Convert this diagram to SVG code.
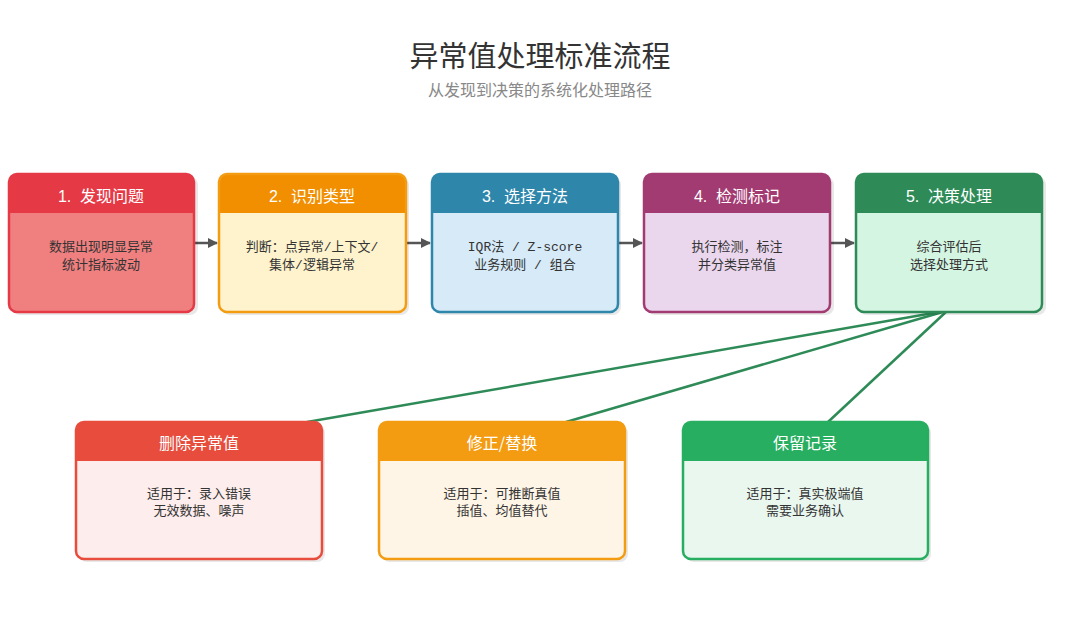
<svg xmlns="http://www.w3.org/2000/svg" width="1080" height="621" viewBox="0 0 1080 621">
<defs>
<style>
.title{font-family:"Noto Sans CJK SC","Liberation Sans",sans-serif;font-size:29px;fill:#333;text-anchor:middle}
.sub{font-family:"Noto Sans CJK SC","Liberation Sans",sans-serif;font-size:16px;fill:#888;text-anchor:middle}
.hd{font-family:"Liberation Sans","Noto Sans CJK SC",sans-serif;font-size:16px;fill:#fff;text-anchor:middle;white-space:pre}
.hd2{font-family:"Noto Sans CJK SC","Liberation Sans",sans-serif;font-size:16px;fill:#fff;text-anchor:middle}
.bd{font-family:"Liberation Mono","Noto Sans CJK SC",monospace;font-size:13px;fill:#333;text-anchor:middle}
.shadow{fill:#000;opacity:0.09}
.conn{stroke:#555;stroke-width:2.5;fill:none}
.green{stroke:#2e8b57;stroke-width:2.5;fill:none}
</style>
<marker id="arr" viewBox="0 0 10 10" refX="9" refY="5" markerWidth="4" markerHeight="4" orient="auto" markerUnits="strokeWidth">
<path d="M0,0 L10,5 L0,10 z" fill="#555"/>
</marker>
</defs>
<rect width="1080" height="621" fill="#fff"/>
<text class="title" x="540" y="67">异常值处理标准流程</text>
<text class="sub" x="540" y="96">从发现到决策的系统化处理路径</text>

<g id="connectors">
<line class="conn" x1="194" y1="243" x2="217" y2="243" marker-end="url(#arr)"/>
<line class="conn" x1="406" y1="243" x2="430" y2="243" marker-end="url(#arr)"/>
<line class="conn" x1="618" y1="243" x2="642" y2="243" marker-end="url(#arr)"/>
<line class="conn" x1="830" y1="243" x2="854" y2="243" marker-end="url(#arr)"/>
<line class="green" x1="945" y1="311" x2="307" y2="422"/>
<line class="green" x1="946" y1="311" x2="566" y2="422"/>
<line class="green" x1="947" y1="311" x2="828" y2="422"/>
</g>

<g id="n1">
<rect class="shadow" x="12" y="177" width="186" height="138" rx="8"/>
<rect x="9" y="174" width="185" height="138" rx="8" fill="#f08080"/>
<path d="M9,213 V182 Q9,174 17,174 H186 Q194,174 194,182 V213 Z" fill="#e63946"/>
<rect x="9" y="174" width="185" height="138" rx="8" fill="none" stroke="#e63946" stroke-width="2.5"/>
<text class="hd" x="101" y="202">1.  发现问题</text>
<text class="bd" x="101" y="251">数据出现明显异常</text>
<text class="bd" x="101" y="269">统计指标波动</text>
</g>

<g id="n2">
<rect class="shadow" x="222" y="177" width="187" height="138" rx="8"/>
<rect x="219" y="174" width="187" height="138" rx="8" fill="#fff3cd"/>
<path d="M219,213 V182 Q219,174 227,174 H398 Q406,174 406,182 V213 Z" fill="#f18f01"/>
<rect x="219" y="174" width="187" height="138" rx="8" fill="none" stroke="#f39c12" stroke-width="2.5"/>
<text class="hd" x="312" y="202">2.  识别类型</text>
<text class="bd" x="312" y="251">判断：点异常/上下文/</text>
<text class="bd" x="312" y="269">集体/逻辑异常</text>
</g>

<g id="n3">
<rect class="shadow" x="435" y="177" width="186" height="138" rx="8"/>
<rect x="432" y="174" width="186" height="138" rx="8" fill="#d6eaf8"/>
<path d="M432,213 V182 Q432,174 440,174 H610 Q618,174 618,182 V213 Z" fill="#2e86ab"/>
<rect x="432" y="174" width="186" height="138" rx="8" fill="none" stroke="#2e86ab" stroke-width="2.5"/>
<text class="hd" x="525" y="202">3.  选择方法</text>
<text class="bd" x="525" y="251">IQR法 / Z-score</text>
<text class="bd" x="525" y="269">业务规则 / 组合</text>
</g>

<g id="n4">
<rect class="shadow" x="647" y="177" width="187" height="138" rx="8"/>
<rect x="644" y="174" width="186" height="138" rx="8" fill="#ead7ee"/>
<path d="M644,213 V182 Q644,174 652,174 H822 Q830,174 830,182 V213 Z" fill="#a23b72"/>
<rect x="644" y="174" width="186" height="138" rx="8" fill="none" stroke="#a23b72" stroke-width="2.5"/>
<text class="hd" x="737" y="202">4.  检测标记</text>
<text class="bd" x="737" y="251">执行检测，标注</text>
<text class="bd" x="737" y="269">并分类异常值</text>
</g>

<g id="n5">
<rect class="shadow" x="859" y="177" width="187" height="138" rx="8"/>
<rect x="856" y="174" width="186" height="138" rx="8" fill="#d4f5e2"/>
<path d="M856,213 V182 Q856,174 864,174 H1034 Q1042,174 1042,182 V213 Z" fill="#2e8b57"/>
<rect x="856" y="174" width="186" height="138" rx="8" fill="none" stroke="#2e8b57" stroke-width="2.5"/>
<text class="hd" x="949" y="202">5.  决策处理</text>
<text class="bd" x="949" y="251">综合评估后</text>
<text class="bd" x="949" y="269">选择处理方式</text>
</g>

<g id="a1">
<rect class="shadow" x="79" y="425" width="246" height="137" rx="8"/>
<rect x="76" y="422" width="246" height="137" rx="8" fill="#fdedec"/>
<path d="M76,461 V430 Q76,422 84,422 H314 Q322,422 322,430 V461 Z" fill="#e74c3c"/>
<rect x="76" y="422" width="246" height="137" rx="8" fill="none" stroke="#e74c3c" stroke-width="2.5"/>
<text class="hd2" x="199" y="449">删除异常值</text>
<text class="bd" x="199" y="498">适用于：录入错误</text>
<text class="bd" x="199" y="515">无效数据、噪声</text>
</g>

<g id="a2">
<rect class="shadow" x="382" y="425" width="246" height="137" rx="8"/>
<rect x="379" y="422" width="246" height="137" rx="8" fill="#fef5e7"/>
<path d="M379,461 V430 Q379,422 387,422 H617 Q625,422 625,430 V461 Z" fill="#f39c12"/>
<rect x="379" y="422" width="246" height="137" rx="8" fill="none" stroke="#f39c12" stroke-width="2.5"/>
<text class="hd2" x="502" y="449">修正/替换</text>
<text class="bd" x="502" y="498">适用于：可推断真值</text>
<text class="bd" x="502" y="515">插值、均值替代</text>
</g>

<g id="a3">
<rect class="shadow" x="686" y="425" width="245" height="137" rx="8"/>
<rect x="683" y="422" width="245" height="137" rx="8" fill="#e9f7ef"/>
<path d="M683,461 V430 Q683,422 691,422 H920 Q928,422 928,430 V461 Z" fill="#27ae60"/>
<rect x="683" y="422" width="245" height="137" rx="8" fill="none" stroke="#27ae60" stroke-width="2.5"/>
<text class="hd2" x="805" y="449">保留记录</text>
<text class="bd" x="805" y="498">适用于：真实极端值</text>
<text class="bd" x="805" y="515">需要业务确认</text>
</g>
</svg>
